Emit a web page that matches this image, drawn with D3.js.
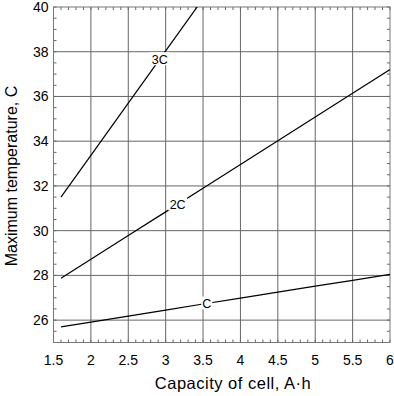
<!DOCTYPE html>
<html>
<head>
<meta charset="utf-8">
<script src="https://cdn.jsdelivr.net/npm/d3@7"></script>
<style>
  body { margin: 0; background: #fff; }
  svg { display: block; font-family: "Liberation Sans", Arial, sans-serif; }
</style>
</head>
<body>
<svg id="chart" width="394" height="396"></svg>
<script>
"use strict";

// capacity values (A·h) where the curves were read
var capacity = [1.6, 2, 2.5, 3, 3.5, 4, 4.5, 5, 5.5, 6];
// maximum temperature for each discharge rate
var tempC  = [25.70, 25.91, 26.18, 26.45, 26.72, 26.98, 27.25, 27.52, 27.78, 28.05];
var temp2C = [27.87, 28.72, 29.78, 30.84, 31.90, 32.96, 34.02, 35.08, 36.14, 37.20];
var temp3C = [31.50, 33.37, 35.70, 38.04, 40.37];

var xTicks = [1.5, 2, 2.5, 3, 3.5, 4, 4.5, 5, 5.5, 6];
var yTicks = [26, 28, 30, 32, 34, 36, 38, 40];

// curve labels: name, position along x
var labels = [
  {name: "C",  x: 3.55, vals: tempC},
  {name: "2C", x: 3.16, vals: temp2C},
  {name: "3C", x: 2.92, vals: temp3C}
];

(function() {
  var svg = d3.select("#chart");
  var left = 53.5, right = 390, top = 7, bottom = 342.5;

  var x = d3.scaleLinear().domain([1.5, 6]).range([left, right]);
  var y = d3.scaleLinear().domain([25, 40]).range([bottom, top]);

  svg.append("defs").append("clipPath").attr("id", "plotclip")
    .append("rect")
    .attr("x", left).attr("y", top)
    .attr("width", right - left).attr("height", bottom - top);

  // grid
  var grid = svg.append("g").attr("stroke", "#666").attr("stroke-width", 1);
  grid.selectAll("line.v")
    .data(xTicks.slice(1, -1))
    .enter().append("line")
      .attr("x1", d => x(d)).attr("x2", d => x(d))
      .attr("y1", top).attr("y2", bottom);
  grid.selectAll("line.h")
    .data(yTicks.slice(0, -1))
    .enter().append("line")
      .attr("x1", left).attr("x2", right)
      .attr("y1", d => y(d)).attr("y2", d => y(d));

  // minor ticks inward, all four sides
  var minorX = d3.range(15, 61).map(d => d / 10);
  var minorY = d3.range(50, 81).map(d => d / 2);
  var ticks = svg.append("g").attr("stroke", "#666").attr("stroke-width", 1);
  minorX.forEach(function(v) {
    ticks.append("line").attr("x1", x(v)).attr("x2", x(v)).attr("y1", bottom).attr("y2", bottom - 3);
    ticks.append("line").attr("x1", x(v)).attr("x2", x(v)).attr("y1", top).attr("y2", top + 3);
  });
  minorY.forEach(function(v) {
    ticks.append("line").attr("x1", left).attr("x2", left + 3).attr("y1", y(v)).attr("y2", y(v));
    ticks.append("line").attr("x1", right).attr("x2", right - 3).attr("y1", y(v)).attr("y2", y(v));
  });

  // frame
  svg.append("rect")
    .attr("x", left).attr("y", top)
    .attr("width", right - left).attr("height", bottom - top)
    .attr("fill", "none").attr("stroke", "#777").attr("stroke-width", 1);

  // curves
  var line = d3.line()
    .x((d, i) => x(capacity[i]))
    .y(d => y(d));

  var curves = svg.append("g").attr("clip-path", "url(#plotclip)");
  [tempC, temp2C, temp3C].forEach(function(vals) {
    curves.append("path")
      .datum(vals)
      .attr("d", line)
      .attr("fill", "none")
      .attr("stroke", "#000")
      .attr("stroke-width", 1.2);
  });

  // curve labels with white knock-out
  function valueAt(vals, xv) {
    var xs = capacity.slice(0, vals.length);
    var i = d3.bisectRight(xs, xv) - 1;
    i = Math.max(0, Math.min(i, xs.length - 2));
    var t = (xv - xs[i]) / (xs[i + 1] - xs[i]);
    return vals[i] + t * (vals[i + 1] - vals[i]);
  }
  labels.forEach(function(l) {
    var px = x(l.x), py = y(valueAt(l.vals, l.x));
    var w = l.name.length * 8 + 3;
    svg.append("rect")
      .attr("x", px - w / 2).attr("y", py - 7)
      .attr("width", w).attr("height", 13)
      .attr("fill", "#fff");
    svg.append("text")
      .attr("x", px).attr("y", py + 4.5)
      .attr("text-anchor", "middle")
      .attr("font-size", 12.5)
      .attr("fill", "#000")
      .text(l.name);
  });

  // tick labels
  svg.append("g").selectAll("text")
    .data(xTicks)
    .enter().append("text")
      .attr("x", d => x(d)).attr("y", bottom + 22)
      .attr("text-anchor", "middle")
      .attr("font-size", 14)
      .text(d => d);

  svg.append("g").selectAll("text")
    .data(yTicks)
    .enter().append("text")
      .attr("x", left - 5).attr("y", d => y(d) + 5)
      .attr("text-anchor", "end")
      .attr("font-size", 14)
      .text(d => d);

  // axis titles
  svg.append("text")
    .attr("x", 233).attr("y", 389)
    .attr("text-anchor", "middle")
    .attr("font-size", 16.5)
    .attr("letter-spacing", 0.5)
    .text("Capacity of cell, A\u00b7h");

  svg.append("text")
    .attr("transform", "translate(17,176) rotate(-90)")
    .attr("text-anchor", "middle")
    .attr("font-size", 16)
    .text("Maximum temperature, C");
})();
</script>
</body>
</html>
